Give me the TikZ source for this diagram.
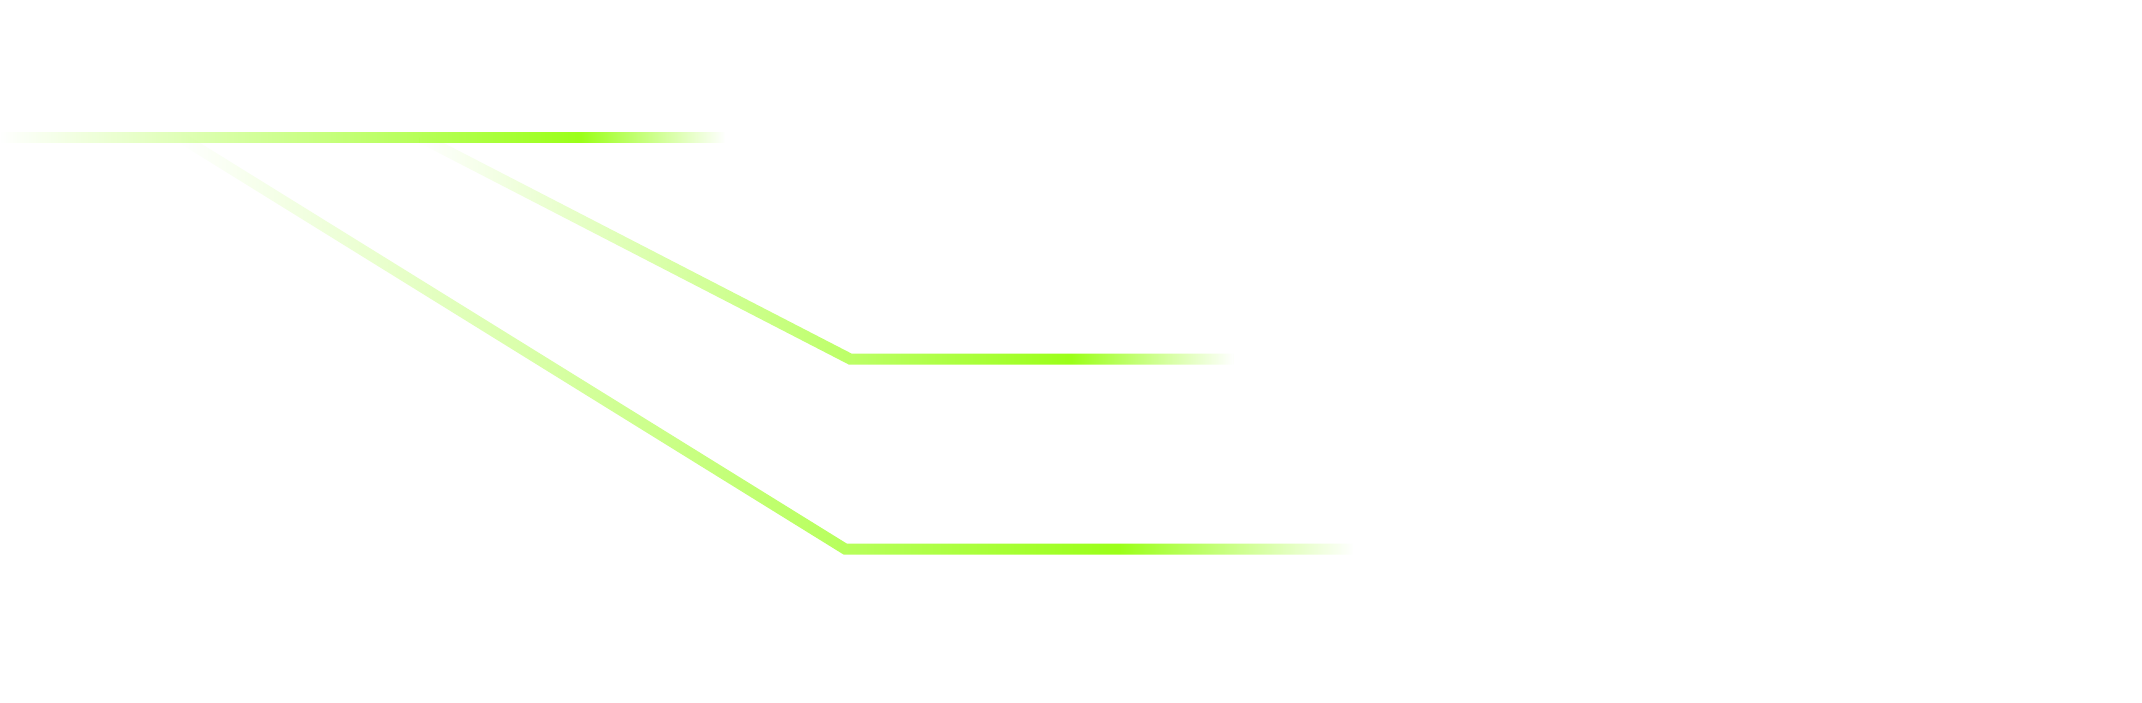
\documentclass[tikz,border=0pt]{standalone}
\usepackage{tikz}
\usetikzlibrary{fadings}
\usepackage{xcolor}
\definecolor{glowgreen}{RGB}{155,255,25}
% black = transparent, white = opaque; the middle 25bp..75bp is fitted to the path
\pgfdeclarehorizontalshading{glowshade}{100bp}{color(0bp)=(black); color(25bp)=(black); color(65bp)=(white); color(75bp)=(black); color(100bp)=(black)}
\begin{tikzfadingfrompicture}[name=glowfade]
    \shade[shading=glowshade] (-1,-10) rectangle (1,10);
\end{tikzfadingfrompicture}
\tikzstyle{glowline} = [line width=1.1mm, color=glowgreen, line join=miter, path fading=glowfade, fit fading=false]
\tikzset{glowspan/.style 2 args={fading transform={shift={(#1,0)}, xscale=#2}}}

\begin{document}
\begin{tikzpicture}[x=0.01cm, y=-0.01cm]
    \path[fill=white, use as bounding box] (0,0) rectangle (2142,702);

    \coordinate (topstart) at (0,137);
    \coordinate (topend) at (725,137);
    \coordinate (midstart) at (420,137);
    \coordinate (midbend) at (850,359);
    \coordinate (midend) at (1233,359);
    \coordinate (lowstart) at (180,137);
    \coordinate (lowbend) at (845,549);
    \coordinate (lowend) at (1353,549);

    \draw[glowline, glowspan={766.5}{5.865}] (lowstart) -- (lowbend) -- (lowend);
    \draw[glowline, glowspan={826.5}{4.065}] (midstart) -- (midbend) -- (midend);
    \draw[glowline, glowspan={362.5}{3.625}] (topstart) -- (topend);
\end{tikzpicture}
\end{document}
